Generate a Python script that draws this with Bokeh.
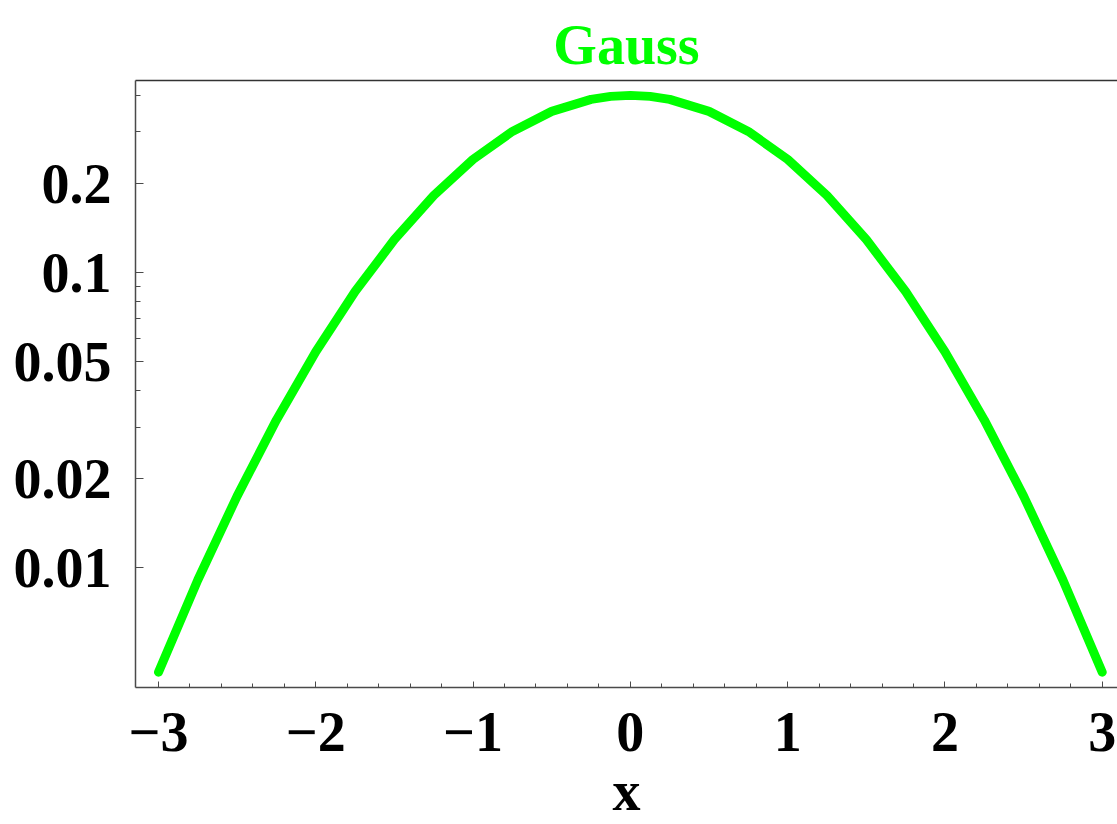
from bokeh.plotting import figure
from bokeh.models import Range1d, FixedTicker, LinearAxis
from bokeh.embed import file_html
from bokeh.resources import INLINE
import numpy as np

# Sampled density of the standard normal curve
x_vals = [-3.0, -2.75, -2.5, -2.25, -2.0, -1.75, -1.5, -1.25, -1.0, -0.75, -0.5,
          -0.25, -0.125, 0.0, 0.125, 0.25, 0.5, 0.75, 1.0, 1.25, 1.5, 1.75, 2.0,
          2.25, 2.5, 2.75, 3.0]
y_vals = [0.00443, 0.00909, 0.0175, 0.0317, 0.0540, 0.0863, 0.1295, 0.1826, 0.2420,
          0.3011, 0.3521, 0.3867, 0.3958, 0.3989, 0.3958, 0.3867, 0.3521, 0.3011,
          0.2420, 0.1826, 0.1295, 0.0863, 0.0540, 0.0317, 0.0175, 0.00909, 0.00443]

x_ticks = [-3, -2, -1, 0, 1, 2, 3]
x_tick_labels = ["\u22123", "\u22122", "\u22121", "0", "1", "2", "3"]
y_ticks = [0.01, 0.02, 0.05, 0.1, 0.2]
y_tick_labels = ["0.01", "0.02", "0.05", "0.1", "0.2"]
y_minor_ticks = [0.03, 0.04, 0.06, 0.07, 0.08, 0.09, 0.3, 0.4]

FONT = "Liberation Serif"
AXIS_COLOR = "#4a4a4a"
GREEN = "#00ff00"

p = figure(width=1117, height=824, y_axis_type="log",
           x_range=Range1d(-3.146, 3.097), y_range=Range1d(0.00393, 0.448),
           output_backend="svg", toolbar_location=None,
           min_border_left=135, min_border_right=0,
           min_border_top=80, min_border_bottom=137)

p.line(x_vals, y_vals, line_color=GREEN, line_width=9,
       line_cap="round", line_join="round")

p.title.text = "Gauss"
p.title.align = "center"
p.title.text_font = FONT
p.title.text_font_style = "bold"
p.title.text_font_size = "56px"
p.title.text_color = GREEN
p.title.standoff = 10

p.grid.visible = False
p.outline_line_color = None
p.background_fill_color = "white"
p.border_fill_color = "white"

# bottom axis
xa = p.xaxis[0]
xa.ticker = FixedTicker(ticks=x_ticks,
                        minor_ticks=list(np.round(np.arange(-3, 3.01, 0.2), 2)))
xa.major_label_overrides = dict(zip(x_ticks, x_tick_labels))
xa.axis_label = "x"
for ax in (xa, p.yaxis[0]):
    ax.axis_line_color = AXIS_COLOR
    ax.axis_line_width = 1.5
    ax.major_tick_line_color = AXIS_COLOR
    ax.minor_tick_line_color = AXIS_COLOR
    ax.major_tick_out = 0
    ax.minor_tick_out = 0
    ax.major_label_text_font = FONT
    ax.major_label_text_font_style = "bold"
    ax.major_label_text_font_size = "56px"
    ax.major_label_text_color = "black"
    ax.axis_label_text_font = FONT
    ax.axis_label_text_font_style = "bold"
    ax.axis_label_text_font_size = "56px"
    ax.axis_label_text_color = "black"

xa.major_tick_in = 6
xa.minor_tick_in = 4
xa.major_label_standoff = 25
xa.axis_label_standoff = 6

# left axis
ya = p.yaxis[0]
ya.ticker = FixedTicker(ticks=y_ticks, minor_ticks=y_minor_ticks)
ya.major_label_overrides = dict(zip(y_ticks, y_tick_labels))
ya.major_tick_in = 8
ya.minor_tick_in = 5
ya.major_label_standoff = 24

# top frame line
top = LinearAxis(ticker=FixedTicker(ticks=[]), axis_line_color="#333333",
                 axis_line_width=1.5, major_tick_in=0, major_tick_out=0,
                 minor_tick_in=0, minor_tick_out=0)
p.add_layout(top, "above")

open("out.html", "w").write(file_html(p, INLINE))
